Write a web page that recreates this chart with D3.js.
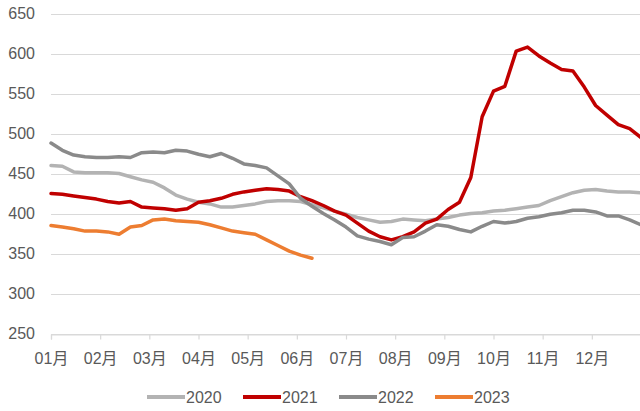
<!DOCTYPE html>
<html>
<head>
<meta charset="utf-8">
<script src="https://cdn.jsdelivr.net/npm/d3@7"></script>
<style>
  body { margin: 0; background: #fff; }
  text { font-family: "Liberation Sans", Arial, "Noto Sans CJK SC", sans-serif; fill: #595959; }
</style>
</head>
<body>
<div id="chart"></div>
<script>
'use strict';

// weekly samples, week 0 = start of January
var monthLabels = ['01月', '02月', '03月', '04月', '05月', '06月',
                   '07月', '08月', '09月', '10月', '11月', '12月'];
var yTicks = [250, 300, 350, 400, 450, 500, 550, 600, 650];

var s2020 = [460, 459, 452, 451, 451, 451, 450, 446, 442, 439, 432, 423, 418, 414,
             412, 408, 408, 410, 412, 415, 416, 416, 415, 411, 407, 403, 399, 395,
             392, 389, 390, 393, 392, 391, 393, 395, 398, 400, 401, 403, 404, 406,
             408, 410, 416, 421, 426, 429, 430, 428, 427, 427, 426];
var s2021 = [425, 424, 422, 420, 418, 415, 413, 415, 408, 407, 406, 404, 406, 414,
             416, 419, 424, 427, 429, 431, 430, 428, 421, 416, 410, 403, 398, 388,
             378, 371, 367, 371, 377, 388, 393, 405, 414, 445, 521, 553, 559, 603,
             608, 597, 588, 580, 578, 558, 535, 523, 511, 506, 495];
var s2022 = [488, 479, 473, 471, 470, 470, 471, 470, 476, 477, 476, 479, 478, 474,
             471, 475, 469, 462, 460, 457, 447, 437, 419, 409, 400, 392, 383, 372,
             368, 365, 361, 370, 371, 378, 386, 384, 380, 377, 384, 390, 388, 390,
             394, 396, 399, 401, 404, 404, 402, 397, 397, 392, 386];
var s2023 = [385, 383, 381, 378, 378, 377, 374, 383, 385, 392, 393, 391, 390, 389,
             386, 382, 378, 376, 374, 367, 360, 353, 348, 344];

var series = [
    { name: '2020', values: s2020, color: '#b3b3b3' },
    { name: '2021', values: s2021, color: '#c00000' },
    { name: '2022', values: s2022, color: '#8a8a8a' },
    { name: '2023', values: s2023, color: '#ed7d31' }
];

var w = 640, h = 411;
var svg = d3.select('#chart').append('svg')
    .attr('width', w)
    .attr('height', h);

// x in months, 0..12
var x = d3.scaleLinear().domain([0, 12]).range([51, 641]);
var y = d3.scaleLinear().domain([250, 650]).range([333.5, 13.5]);

// gridlines
svg.append('g')
    .selectAll('line')
    .data(yTicks)
    .enter()
    .append('line')
    .attr('x1', 51)
    .attr('x2', w)
    .attr('y1', function(d) { return Math.round(y(d)) + 0.5; })
    .attr('y2', function(d) { return Math.round(y(d)) + 0.5; })
    .attr('stroke', '#d9d9d9')
    .attr('stroke-width', 1.2);

// y labels
svg.append('g')
    .selectAll('text')
    .data(yTicks)
    .enter()
    .append('text')
    .text(function(d) { return d; })
    .attr('x', 35)
    .attr('y', function(d) { return y(d); })
    .attr('dy', '0.35em')
    .attr('text-anchor', 'end')
    .attr('font-size', 16);

// x axis
var xAxis = d3.axisBottom(x)
    .tickValues(d3.range(12))
    .tickSize(5)
    .tickFormat(function(d) { return monthLabels[d]; });

var gx = svg.append('g')
    .attr('transform', 'translate(0,' + (Math.round(y(250)) + 0.5) + ')')
    .call(xAxis);
gx.select('.domain').attr('stroke', '#d9d9d9').attr('stroke-width', 1.2);
gx.selectAll('.tick line').attr('stroke', '#d9d9d9').attr('stroke-width', 1.2);
gx.selectAll('.tick text')
    .attr('y', 18)
    .attr('font-size', 16)
    .attr('font-family', null)
    .style('fill', '#595959');

// lines
var line = d3.line()
    .x(function(d, i) { return x(i * 12 / 52); })
    .y(function(d) { return y(d); });

svg.append('g')
    .selectAll('path')
    .data(series)
    .enter()
    .append('path')
    .attr('d', function(d) { return line(d.values); })
    .attr('fill', 'none')
    .attr('stroke', function(d) { return d.color; })
    .attr('stroke-width', 3.5)
    .attr('stroke-linejoin', 'round')
    .attr('stroke-linecap', 'round');

// legend
var legend = svg.append('g')
    .selectAll('g')
    .data(series)
    .enter()
    .append('g')
    .attr('transform', function(d, i) { return 'translate(' + (147 + i * 96) + ',397)'; });

legend.append('line')
    .attr('x1', 0)
    .attr('x2', 38)
    .attr('stroke', function(d) { return d.color; })
    .attr('stroke-width', 4);

legend.append('text')
    .text(function(d) { return d.name; })
    .attr('x', 39)
    .attr('dy', '0.35em')
    .attr('font-size', 16);
</script>
</body>
</html>
